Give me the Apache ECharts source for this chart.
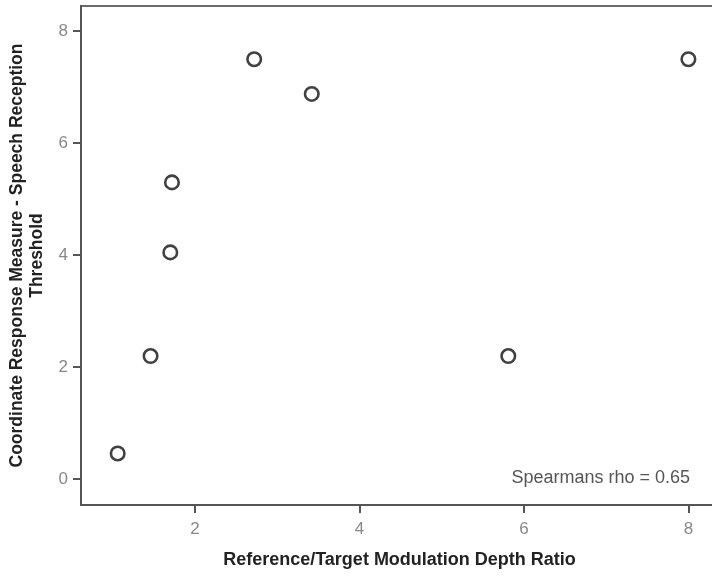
<!DOCTYPE html>
<html><head><meta charset="utf-8">
<script src="https://cdn.jsdelivr.net/npm/echarts@6/dist/echarts.min.js"></script>
<style>html,body{margin:0;padding:0;background:#fff}#c{width:712px;height:576px}</style>
</head><body><div id="c"></div>
<script>
const xValues = [1.06, 1.46, 1.70, 1.72, 2.72, 3.42, 5.81, 8.00];
const yValues = [0.46, 2.20, 4.05, 5.30, 7.50, 6.88, 2.20, 7.50];
const xTicks = [2, 4, 6, 8];
const yTicks = [0, 2, 4, 6, 8];
const xTitle = 'Reference/Target Modulation Depth Ratio';
const yTitle = 'Coordinate Response Measure - Speech Reception\nThreshold';
const note = 'Spearmans rho = 0.65';

const pts = xValues.map((x, i) => [x, yValues[i]]);
const font = '"Liberation Sans", Arial, sans-serif';
const chart = echarts.init(document.getElementById('c'), null, {renderer: 'canvas'});
chart.setOption({
  animation: false,
  grid: {left: 81, right: -6, top: 6, bottom: 71, outerBoundsMode: 'none', containLabel: false,
         show: true, borderColor: '#6b6b6b', borderWidth: 2, backgroundColor: 'transparent'},
  xAxis: {
    type: 'value', min: 0.614, max: 8.36,
    name: xTitle, nameLocation: 'middle', nameGap: 46,
    nameTextStyle: {fontFamily: font, fontSize: 18, fontWeight: 'bold', color: '#222'},
    axisLine: {show: true, onZero: false, lineStyle: {color: '#555', width: 2}},
    axisTick: {show: true, length: 8, customValues: xTicks, lineStyle: {color: '#555', width: 2}},
    axisLabel: {customValues: xTicks, fontFamily: font, fontSize: 17, color: '#888', margin: 16},
    splitLine: {show: false}
  },
  yAxis: {
    type: 'value', min: -0.46, max: 8.45,
    name: yTitle, nameLocation: 'middle', nameGap: 32, nameRotate: 90,
    nameTextStyle: {fontFamily: font, fontSize: 17.5, fontWeight: 'bold', color: '#222', lineHeight: 20, align: 'center'},
    axisLine: {show: true, onZero: false, lineStyle: {color: '#555', width: 2}},
    axisTick: {show: true, length: 8, customValues: yTicks, lineStyle: {color: '#555', width: 2}},
    axisLabel: {customValues: yTicks, fontFamily: font, fontSize: 17, color: '#888', margin: 13},
    splitLine: {show: false}
  },
  series: [{
    type: 'scatter', data: pts, symbol: 'circle', symbolSize: 13.5,
    itemStyle: {color: '#fff', borderColor: '#111', borderWidth: 2.6}
  }],
  graphic: [{
    type: 'text', x: 690, y: 478,
    style: {text: note, fontFamily: font, fontSize: 18, fill: '#555', align: 'right', verticalAlign: 'middle'}
  }]
});
</script></body></html>
